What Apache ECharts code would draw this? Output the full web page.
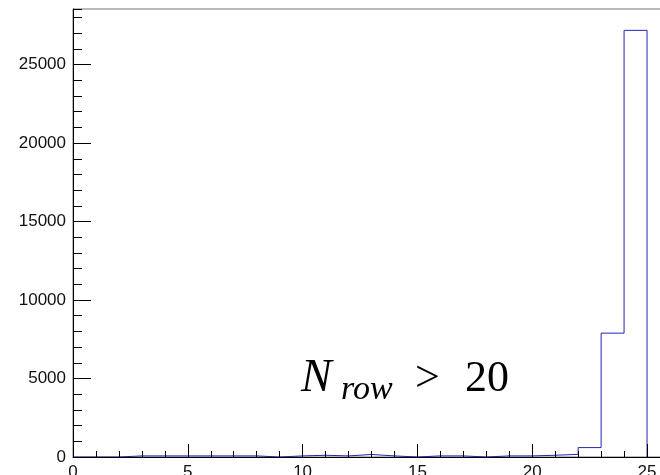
<!DOCTYPE html>
<html>
<head>
<meta charset="utf-8">
<script src="https://cdn.jsdelivr.net/npm/echarts@6/dist/echarts.min.js"></script>
<style>
  html, body { margin: 0; padding: 0; background: #fff; }
  #chart { width: 660px; height: 475px; }
</style>
</head>
<body>
<div id="chart"></div>
<script>
// Histogram bins: lower edge of each unit-wide bin and its count
const binLowEdges = [0, 1, 2, 3, 4, 5, 6, 7, 8, 9, 10, 11, 12, 13, 14, 15, 16, 17, 18, 19, 20, 21, 22, 23, 24];
const binCounts   = [0, 0, 70, 70, 70, 70, 70, 70, 0, 70, 110, 70, 160, 70, 0, 70, 70, 0, 70, 70, 110, 170, 600, 7890, 27180];
const lastUpperEdge = 25;
const xTickLabels = ['0', '5', '10', '15', '20', '25'];
const yTickLabels = ['0', '5000', '10000', '15000', '20000', '25000'];

const xMin = 0, xMax = 26;
const yMin = 0, yMax = 28540;

// step outline: (lowEdge, count) for each bin, then close down at the last upper edge
const outline = binLowEdges.map((x, i) => [x, binCounts[i]]);
outline.push([lastUpperEdge, 0]);

const chart = echarts.init(document.getElementById('chart'), null, { renderer: 'canvas' });

const labelFont = { fontFamily: 'Liberation Sans', fontSize: 17, color: '#111' };

chart.setOption({
  animation: false,
  backgroundColor: '#fff',
  grid: {
    left: 73, top: 9, right: -10, bottom: 18,
    containLabel: false, outerBoundsMode: 'none',
    show: true, borderColor: '#777', borderWidth: 1, backgroundColor: 'transparent'
  },
  xAxis: [
    {
      type: 'value', min: xMin, max: xMax, interval: 5, position: 'bottom', z: 3,
      axisLine: { show: true, onZero: false, lineStyle: { color: '#000', width: 1 } },
      axisTick: { show: true, inside: true, length: 13, lineStyle: { color: '#000' } },
      axisLabel: Object.assign({
        margin: 7, showMaxLabel: false, hideOverlap: false,
        formatter: v => xTickLabels.includes(String(v)) ? String(v) : ''
      }, labelFont),
      splitLine: { show: false }
    },
    {
      type: 'value', min: xMin, max: xMax, interval: 1, position: 'bottom', z: 3,
      axisLine: { show: false },
      axisTick: { show: true, inside: true, length: 6, lineStyle: { color: '#000' } },
      axisLabel: { show: false },
      splitLine: { show: false }
    }
  ],
  yAxis: [
    {
      type: 'value', min: yMin, max: yMax, interval: 5000, position: 'left', z: 3,
      axisLine: { show: true, onZero: false, lineStyle: { color: '#000', width: 1 } },
      axisTick: { show: true, inside: true, length: 18, lineStyle: { color: '#000' } },
      axisLabel: Object.assign({
        margin: 7, showMaxLabel: false, hideOverlap: false,
        formatter: v => yTickLabels.includes(String(v)) ? String(v) : ''
      }, labelFont),
      splitLine: { show: false }
    },
    {
      type: 'value', min: yMin, max: yMax, interval: 1000, position: 'left', z: 3,
      axisLine: { show: false },
      axisTick: { show: true, inside: true, length: 9, lineStyle: { color: '#000' } },
      axisLabel: { show: false },
      splitLine: { show: false }
    }
  ],
  series: [
    {
      type: 'line', xAxisIndex: 0, yAxisIndex: 0, step: 'end', z: 1,
      data: outline, showSymbol: false, symbol: 'none', smooth: false,
      lineStyle: { color: '#2424b0', width: 1 },
      silent: true
    }
  ],
  graphic: [
    { type: 'text', left: 301, top: 356, silent: true,
      style: { text: 'N', fontFamily: 'Liberation Serif', fontStyle: 'italic', fontSize: 46, fill: '#000' } },
    { type: 'text', left: 341, top: 373, silent: true,
      style: { text: 'row', fontFamily: 'Liberation Serif', fontStyle: 'italic', fontSize: 34, fill: '#000' } },
    { type: 'text', left: 415, top: 357, silent: true,
      style: { text: '>', fontFamily: 'Liberation Serif', fontSize: 44, fill: '#000' } },
    { type: 'text', left: 465, top: 357, silent: true,
      style: { text: '20', fontFamily: 'Liberation Serif', fontSize: 44, fill: '#000' } }
  ]
});
</script>
</body>
</html>
